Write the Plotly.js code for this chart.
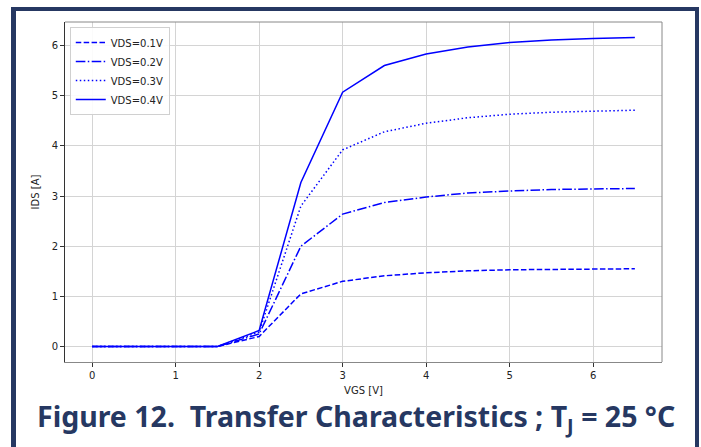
<!DOCTYPE html>
<html>
<head>
<meta charset="utf-8">
<script src="https://cdn.plot.ly/plotly-3.0.1.min.js"></script>
<style>
html,body{margin:0;padding:0;background:#fff;}
#wrap{position:relative;width:701px;height:447px;overflow:hidden;}
#chart{position:absolute;left:0;top:0;width:701px;height:447px;}
#frame{position:absolute;left:11px;top:7px;width:679px;height:460px;border-left:5px solid #263862;border-top:4px solid #263862;border-right:4px solid #263862;pointer-events:none;}
</style>
</head>
<body>
<div id="wrap"><div id="chart"></div><div id="frame"></div></div>
<script>
const vgs = [0, 0.5, 1.0, 1.5, 2.0, 2.5, 3.0, 3.5, 4.0, 4.5, 5.0, 5.5, 6.0, 6.5];
const ids_01 = [0, 0, 0, 0, 0.20, 1.05, 1.30, 1.41, 1.47, 1.51, 1.53, 1.54, 1.55, 1.55];
const ids_02 = [0, 0, 0, 0, 0.25, 2.00, 2.64, 2.87, 2.98, 3.06, 3.10, 3.13, 3.14, 3.15];
const ids_03 = [0, 0, 0, 0, 0.29, 2.80, 3.92, 4.28, 4.45, 4.56, 4.63, 4.67, 4.69, 4.71];
const ids_04 = [0, 0, 0, 0, 0.32, 3.27, 5.07, 5.60, 5.83, 5.97, 6.06, 6.11, 6.14, 6.16];
const seriesNames = ['VDS=0.1V', 'VDS=0.2V', 'VDS=0.3V', 'VDS=0.4V'];
const xTicks = [0, 1, 2, 3, 4, 5, 6];
const yTicks = [0, 1, 2, 3, 4, 5, 6];
const xTitle = 'VGS [V]';
const yTitle = 'IDS [A]';
const caption = 'Figure 12.&nbsp; Transfer Characteristics ; T<sub>J</sub> = 25 °C';

const dashes = ['5.5px,2.4px', '9.6px,2.4px,1.5px,2.4px', '1.5px,2.5px', 'solid'];
const ys = [ids_01, ids_02, ids_03, ids_04];
const traces = ys.map((y, i) => ({
  x: vgs, y: y, type: 'scatter', mode: 'lines', name: seriesNames[i],
  line: {color: '#0000ff', width: 1.5, dash: dashes[i]}
}));

const tickFont = {family: 'DejaVu Sans', size: 10, color: '#222'};
const layout = {
  width: 701, height: 447,
  margin: {l: 65, r: 39, t: 22, b: 85},
  paper_bgcolor: '#fff', plot_bgcolor: '#fff',
  showlegend: true,
  legend: {x: 0.008, y: 0.985, xanchor: 'left', yanchor: 'top',
    bgcolor: 'rgba(255,255,255,0.9)', bordercolor: '#d0d0d0', borderwidth: 1,
    font: {family: 'DejaVu Sans', size: 10, color: '#222'}, itemwidth: 30, tracegroupgap: 0},
  xaxis: {range: [-0.325, 6.825], tickvals: xTicks, ticktext: xTicks.map(String),
    showgrid: true, gridcolor: '#d4d4d4', gridwidth: 1, zeroline: false,
    showline: true, linecolor: '#888', linewidth: 1,
    ticks: 'outside', ticklen: 4, tickcolor: '#333', tickfont: tickFont,
    title: {text: xTitle, font: {family: 'DejaVu Sans', size: 10, color: '#222'}, standoff: 6}},
  yaxis: {range: [-0.308, 6.468], tickvals: yTicks, ticktext: yTicks.map(String),
    showgrid: true, gridcolor: '#d4d4d4', gridwidth: 1, zeroline: false,
    showline: true, linecolor: '#333', linewidth: 1,
    ticks: 'outside', ticklen: 4, tickcolor: '#333', tickfont: tickFont,
    title: {text: yTitle, font: {family: 'DejaVu Sans', size: 10, color: '#222'}, standoff: 10}},
  shapes: [
    {type: 'line', xref: 'paper', yref: 'paper', x0: 0, x1: 1, y0: 1, y1: 1, line: {color: '#888', width: 1}},
    {type: 'line', xref: 'paper', yref: 'paper', x0: 1, x1: 1, y0: 0, y1: 1, line: {color: '#888', width: 1}}
  ],
  annotations: [
    {text: '<b>' + caption + '</b>', xref: 'paper', yref: 'paper', x: 0.488, y: -0.098,
      xanchor: 'center', yanchor: 'top', showarrow: false,
      font: {family: 'Noto Sans', size: 28.5, color: '#263862'}}
  ]
};
Plotly.newPlot('chart', traces, layout, {displayModeBar: false, staticPlot: true});
</script>
</body>
</html>
